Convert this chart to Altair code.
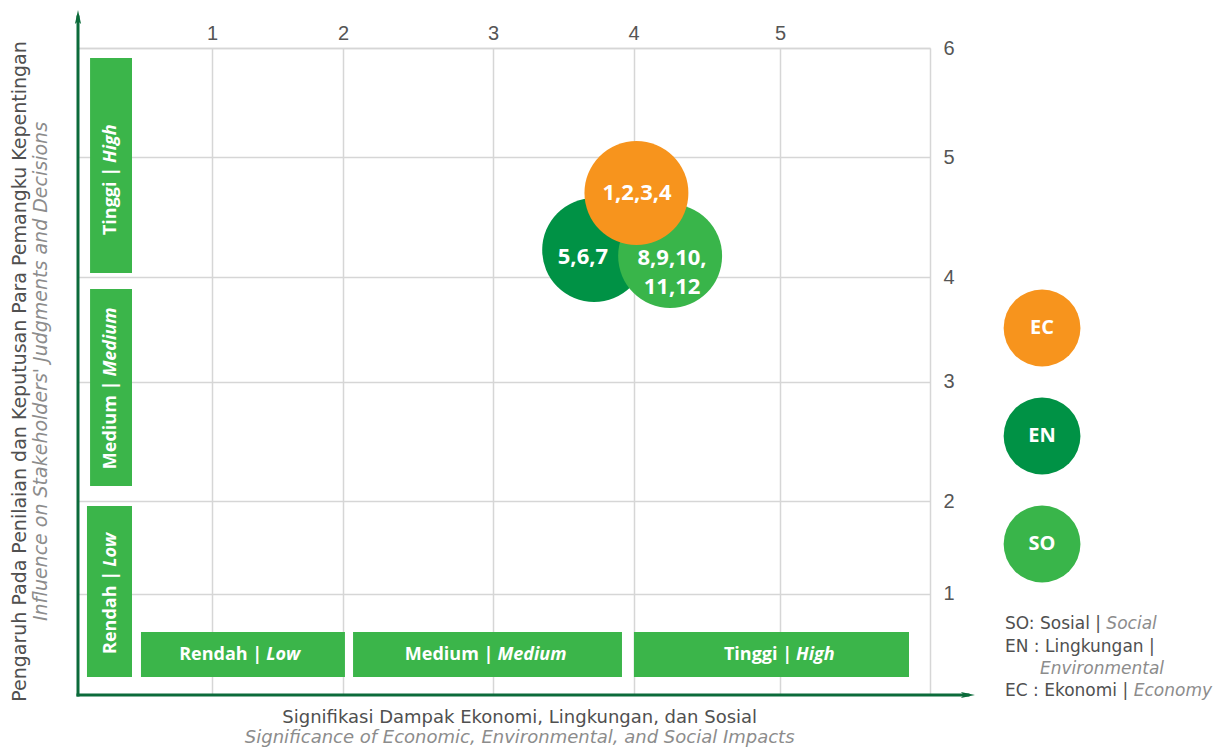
import altair as alt
import pandas as pd

# ---------------- data ----------------
x_ticks = [1, 2, 3, 4, 5]
y_ticks = [1, 2, 3, 4, 5, 6]

# materiality bubbles (drawn in this order: EN, SO, EC)
codes = ["EN", "SO", "EC"]
code_x = [3.72, 4.25, 4.02]
code_y = [4.225, 4.175, 4.70]
items = ["5,6,7", "8,9,10,\n11,12", "1,2,3,4"]
items_x = [3.64, 4.263, 4.024]
items_y = [4.167, 4.158, 4.70]

legend_codes = ["EC", "EN", "SO"]
legend_colors = ["#F7941D", "#009245", "#39B54A"]
legend_y = [3.512, 2.544, 1.535]

level_id = ["Rendah |", "Medium |", "Tinggi |"]
level_en = ["Low", "Medium", "High"]

# significance bands (bottom row)
sig_x0 = [0.47, 2.067, 4.003]
sig_x1 = [2.013, 3.918, 5.86]
sig_text_x = [1.214, 2.96, 5.0]
# influence bands (left column)
inf_x0 = [0.067, 0.09, 0.09]
inf_y0 = [0.177, 2.126, 4.033]
inf_y1 = [1.946, 3.885, 5.908]
inf_text_y = [1.005, 2.954, 4.817]

key_id = ["SO: Sosial |", "EN : Lingkungan |", "", "EC : Ekonomi |"]
key_en = ["Social", "", "Environmental", "Economy"]
key_y = [0.70, 0.473, 0.256, 0.039]

x_title = "Signifikasi Dampak Ekonomi, Lingkungan, dan Sosial"
x_subtitle = "Significance of Economic, Environmental, and Social Impacts"
y_title = "Pengaruh Pada Penilaian dan Keputusan Para Pemangku Kepentingan"
y_subtitle = "Influence on Stakeholders' Judgments and Decisions"

# ---------------- style ----------------
BFONT = "Open Sans"
TFONT = "DejaVu Sans"
NUM_FONT = "Liberation Sans"
DARK = "#0B6B3A"
BAND = "#3BB54A"
GRID = "#D6D6D6"
TXT = "#505050"
TXT2 = "#8C8C8C"

W, H = 852, 647
X_DOM = [0, 1, 2, 3, 4, 5, 6]
X_RNG = [0, 134, 265, 415, 555.5, 702, 852]
Y_RNG = [647, 545.5, 453, 333.5, 229, 109, 0]
XS = alt.Scale(domain=X_DOM, range=X_RNG, nice=False, zero=False)
YS = alt.Scale(domain=X_DOM, range=Y_RNG, nice=False, zero=False)

BOLD = {'R': .677, 'e': .60, 'n': .667, 'd': .64, 'a': .604, 'h': .667, ' ': .26,
        '|': .55, 'L': .55, 'o': .626, 'w': .864, 'M': .94, 'i': .305, 'u': .667,
        'm': 1.0, 'T': .58, 'g': .56, 'H': .76}
REG = {'S': .635, 'O': .787, 'E': .632, 'N': .748, 'C': .698, 'L': .557, ' ': .318,
       ':': .337, '|': .337, 'o': .612, 's': .521, 'i': .278, 'a': .613, 'l': .278,
       'k': .579, 'n': .634, 'g': .635, 'u': .634, 'm': .974, 'c': .55, 'e': .615,
       'v': .592, 'r': .411, 't': .392, 'y': .592, 'd': .635, 'h': .634}


def tw(s, size, table):
    return sum(table.get(c, 0.6) for c in s) * size


x_axis = alt.Axis(orient="top", values=x_ticks, grid=True, gridColor=GRID, gridWidth=1.5,
                  domain=True, domainColor=GRID, domainWidth=1.5, ticks=False, tickSize=0,
                  labelPadding=5, labelFont=NUM_FONT, labelFontSize=20, labelColor="#555555",
                  labelFlush=False, labelOverlap=False, labelAngle=0, title=None)
y_axis = alt.Axis(orient="right", values=y_ticks, grid=True, gridColor=GRID, gridWidth=1.5,
                  domain=True, domainColor=GRID, domainWidth=1.5, ticks=False, tickSize=0,
                  labelPadding=13, labelFont=NUM_FONT, labelFontSize=20, labelColor="#555555",
                  labelFlush=False, labelOverlap=False, title=None)


def X(f):
    return alt.X(f, type="quantitative", scale=XS, axis=x_axis)


def Y(f):
    return alt.Y(f, type="quantitative", scale=YS, axis=y_axis)


layers = []

# ---- bands ----
hb = pd.DataFrame({"x": sig_x0, "x2": sig_x1, "y": [0.177] * 3, "y2": [0.62] * 3})
vb = pd.DataFrame({"x": inf_x0, "x2": [0.403] * 3, "y": inf_y0, "y2": inf_y1})
bands = pd.concat([hb, vb], ignore_index=True)
layers.append(alt.Chart(bands).mark_rect(color=BAND).encode(
    x=X("x"), x2="x2", y=Y("y"), y2="y2"))

# ---- band labels (bold / bold italic) ----
FS = 18
for i in range(3):
    w1 = tw(level_id[i], FS, BOLD)
    w2 = tw(level_en[i], FS, BOLD) * 0.97
    gap = 4
    tot = w1 + gap + w2
    d1 = -tot / 2 + w1
    d2 = d1 + gap
    src = alt.Chart(pd.DataFrame({"x": [sig_text_x[i]], "y": [0.394],
                                  "a": [level_id[i]], "b": [level_en[i]]}))
    layers.append(src.mark_text(align="right", baseline="middle", dx=d1, font=BFONT, fontSize=FS,
                                fontWeight="bold", color="white").encode(
        x=X("x"), y=Y("y"), text="a:N"))
    layers.append(src.mark_text(align="left", baseline="middle", dx=d2, font=BFONT, fontSize=FS,
                                fontWeight="bold", fontStyle="italic", color="white").encode(
        x=X("x"), y=Y("y"), text="b:N"))
    src = alt.Chart(pd.DataFrame({"x": [0.246], "y": [inf_text_y[i]],
                                  "a": [level_id[i]], "b": [level_en[i]]}))
    layers.append(src.mark_text(align="right", baseline="middle", dx=d1, angle=270, font=BFONT,
                                fontSize=FS, fontWeight="bold", color="white").encode(
        x=X("x"), y=Y("y"), text="a:N"))
    layers.append(src.mark_text(align="left", baseline="middle", dx=d2, angle=270, font=BFONT,
                                fontSize=FS, fontWeight="bold", fontStyle="italic",
                                color="white").encode(
        x=X("x"), y=Y("y"), text="b:N"))

# ---- dark green axis lines with arrows ----
rules = pd.DataFrame({"x": [0, 0], "x2": [0, 6.253], "y": [0, 0], "y2": [6.284, 0]})
layers.append(alt.Chart(rules).mark_rule(color=DARK, strokeWidth=3, strokeCap="square").encode(
    x=X("x"), x2="x2", y=Y("y"), y2="y2"))
arrows = pd.DataFrame({"x": [0, 6.253], "y": [6.284, 0], "ang": [0, 90]})
ARROW = "M0,-1L0.44,1L0,0.6L-0.44,1Z"
layers.append(alt.Chart(arrows).mark_point(shape=ARROW, filled=True, size=196, color=DARK,
                                           opacity=1, strokeWidth=0).encode(
    x=X("x"), y=Y("y"), angle=alt.Angle("ang:Q", scale=None)))

# ---- bubbles ----
bub = pd.DataFrame({"code": codes, "x": code_x, "y": code_y})
color = alt.Color("code:N", scale=alt.Scale(domain=legend_codes, range=legend_colors), legend=None)
layers.append(alt.Chart(bub).mark_circle(size=10800, opacity=1).encode(
    x=X("x"), y=Y("y"), color=color))
lab = pd.DataFrame({"t": items, "x": items_x, "y": items_y})
layers.append(alt.Chart(lab).mark_text(font=BFONT, fontSize=22, fontWeight="bold", color="white",
                                       lineBreak="\n", lineHeight=29, align="center",
                                       baseline="middle").encode(
    x=X("x"), y=Y("y"), text="t:N"))

# ---- legend ----
leg = pd.DataFrame({"code": legend_codes, "x": [6.747] * 3, "y": legend_y})
layers.append(alt.Chart(leg).mark_circle(size=5900, opacity=1).encode(
    x=X("x"), y=Y("y"), color=color))
layers.append(alt.Chart(leg).mark_text(font=BFONT, fontSize=20, fontWeight="bold", color="white",
                                       align="center", baseline="middle").encode(
    x=X("x"), y=Y("y"), text="code:N"))

KFS = 17
for i in range(4):
    src = alt.Chart(pd.DataFrame({"x": [6.5], "y": [key_y[i]], "a": [key_id[i]], "b": [key_en[i]]}))
    if key_id[i]:
        layers.append(src.mark_text(align="left", baseline="middle", font=TFONT, fontSize=KFS,
                                    color=TXT).encode(x=X("x"), y=Y("y"), text="a:N"))
    if key_en[i]:
        dx = tw(key_id[i], KFS, REG) + 5 if key_id[i] else 35
        layers.append(src.mark_text(align="left", baseline="middle", dx=dx, font=TFONT,
                                    fontSize=KFS, fontStyle="italic", color=TXT2).encode(
            x=X("x"), y=Y("y"), text="b:N"))

# ---- bottom titles ----
bt = pd.DataFrame({"x": [3.19], "y1": [-0.227], "y2": [-0.424], "a": [x_title], "b": [x_subtitle]})
layers.append(alt.Chart(bt).mark_text(font=TFONT, fontSize=18, color=TXT, align="center",
                                      baseline="middle").encode(
    x=X("x"), y=Y("y1"), text="a:N"))
layers.append(alt.Chart(bt).mark_text(font=TFONT, fontSize=18, color=TXT2, fontStyle="italic",
                                      align="center", baseline="middle").encode(
    x=X("x"), y=Y("y2"), text="b:N"))

chart = alt.layer(*layers).properties(
    width=W, height=H,
    title=alt.TitleParams(text=y_title, subtitle=y_subtitle, orient="left", anchor="middle",
                          frame="group", font=TFONT, fontSize=19, fontWeight="normal",
                          color=TXT, subtitleFont=TFONT, subtitleFontSize=19,
                          subtitleFontStyle="italic", subtitleColor=TXT2, subtitlePadding=2,
                          offset=24),
    autosize=alt.AutoSizeParams(type="none"),
    padding={"left": 70, "top": 40, "right": 294, "bottom": 54},
).configure_view(stroke=None)

chart.save("out.html", embed_options={"renderer": "svg", "actions": False})
